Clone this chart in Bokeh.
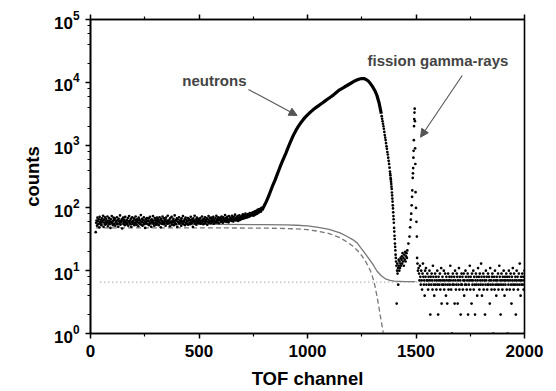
from bokeh.plotting import figure
from bokeh.models import (Range1d, LinearAxis, FixedTicker, LogTicker, Label,
                          Arrow, NormalHead, CustomJSTickFormatter)
from bokeh.embed import file_html
from bokeh.resources import INLINE

# ---------------- data ----------------
# flat background region, channels 24..790 step 2
band_start, band_step = 24, 2
band_counts = [
 41,58,63,52,70,61,55,66,49,72,60,57,64,53,68,59,62,75,50,65,58,71,54,61,
 67,56,60,73,51,63,58,69,55,62,48,66,59,74,57,61,53,70,64,56,68,52,63,60,
 58,71,55,64,50,67,61,57,76,54,62,59,66,47,63,70,56,60,65,53,72,58,61,55,
 64,57,69,52,61,74,58,63,55,67,50,60,71,56,62,59,68,53,65,57,73,61,54,66,
 59,63,51,70,58,65,56,62,77,54,60,67,52,64,58,71,55,61,48,66,60,57,69,63,
 55,62,68,53,60,72,57,64,50,66,59,61,74,56,63,52,69,58,65,54,61,70,57,62,
 66,53,60,71,58,64,49,67,56,62,73,59,55,68,61,57,64,52,70,60,63,56,75,58,
 62,57,65,51,69,60,58,72,54,63,59,67,53,61,76,57,64,55,62,68,50,66,60,58,
 71,56,63,59,65,52,68,61,57,74,55,62,60,66,53,70,58,64,56,61,69,54,63,67,
 58,64,55,72,60,57,66,62,50,68,59,63,75,56,61,65,54,70,58,62,67,60,57,64,
 61,69,56,63,58,73,60,65,55,67,62,59,71,57,64,61,68,54,66,60,74,58,63,69,
 62,57,70,64,59,67,61,72,56,65,63,60,69,58,75,62,66,59,71,64,57,68,63,70,
 65,60,73,62,68,58,71,64,66,61,77,63,69,60,67,72,62,65,59,74,66,63,70,64,
 68,62,75,65,70,61,72,67,64,78,66,63,71,69,65,74,62,70,67,76,64,69,72,66,
 70,74,67,79,71,68,76,72,69,81,73,70,77,74,71,80,75,72,78,83,74,79,76,82,
 78,84,80,75,86,81,77,88,83,79,90,85,81,93,87,84,95,89,86,97,91,88,100,95,
]

# neutron peak (dense, smooth part), channels 790..1340 step 10
peak_start, peak_step = 790, 10
peak_counts = [
 92,107,126,151,186,229,275,339,417,513,617,
 741,902,1096,1318,1549,1799,2042,2291,2541,2786,
 3020,3273,3508,3758,3981,4217,4467,4732,5012,5309,
 5623,5957,6310,6761,7244,7674,8035,8414,8810,9226,
 9661,10116,10593,10965,11298,11482,11482,11092,10471,9550,
 8511,7413,6166,4677,3162,
]

# falling edge of the neutron peak
fall_ch = list(range(1342, 1380, 2)) + list(range(1380, 1407))
fall_counts = [
 2884,2630,2399,2188,1995,1820,1622,1445,1318,1202,1072,955,871,776,708,631,562,501,437,
 380,352,331,300,282,262,240,218,200,176,158,141,126,110,98,85,74,66,58,48,42,36,32,27,24,21,18,
]

# minimum between the peaks
min_ch = [1407,1408,1410,1411,1413,1414,1415,1417,1418,1420,1421,1423,1424,1426,1428,1429,
          1431,1433,1435,1436,1438,1440,1442,1444,1446,1448,1450,1452,1454,1456,1458]
min_counts = [16,14,12,3,10,13,9,11,6,15,12,10,14,11,13,16,12,15,17,13,19,14,16,12,18,15,
              20,14,17,19,16]

# fission gamma-ray peak
gamma_ch = [1460,1465,1470,1473,1476,1478,1480,1482,1483,1485,1486,1487,1488,1489,1490,
            1491,1492,1493,1494,1495,1496,1497,1498,1500,1502,1504,1505,1507,1509]
gamma_counts = [21,27,35,49,65,81,110,150,190,300,355,430,630,810,1200,
                2000,2600,3300,3800,2400,890,500,178,100,60,35,16,13,10]

# flat tail, channels 1512..2000 step 2
tail_start, tail_step = 1512, 2
tail_counts = [
 11,9,7,12,8,6,10,7,5,9,13,8,6,7,4,10,8,11,6,7,
 9,7,5,8,6,10,7,2,8,6,9,7,5,12,8,6,4,7,9,6,
 8,5,7,10,6,2,8,7,6,9,5,7,11,3,6,8,7,6,10,5,
 7,9,6,4,8,7,3,6,9,5,7,8,6,12,7,5,8,1,6,9,
 7,6,8,3,10,7,5,6,9,8,3,7,6,11,5,8,7,2,6,9,
 6,8,5,7,9,4,7,6,10,8,6,5,7,9,2,8,6,7,12,5,
 8,7,3,9,6,7,10,5,8,6,2,7,9,6,8,4,7,11,6,8,
 5,9,7,6,13,8,4,7,6,9,5,8,7,2,6,10,7,8,5,6,
 9,6,8,7,3,11,6,7,5,8,9,6,1,7,8,5,10,6,7,4,
 8,6,7,9,5,6,12,8,7,2,6,9,7,5,8,6,10,7,4,8,
 6,7,9,5,8,1,7,6,10,8,5,7,9,6,3,8,7,11,6,5,
 9,7,6,8,2,7,10,6,8,5,7,9,6,13,7,4,8,6,7,9,
 6,8,5,7,10,
]

# fitted curves
fit_total_ch = [25,300,600,800,900,950,1000,1050,1100,1150,1183,1210,1230,1244,1260,1280,
                1300,1320,1340,1360,1380,1400,1450,1497]
fit_total = [54.5,54.5,54.5,54.2,53.6,52.9,51.6,49,45.5,40,35,31,27.5,23.5,20,16,
             12.8,9.9,8.3,7.4,7.0,6.8,6.7,6.7]
fit_neutron_ch = [25,300,600,800,900,950,1000,1050,1100,1150,1183,1210,1230,1244,1260,1270,
                  1280,1290,1300,1310,1321,1330,1340,1350]
fit_neutron = [48,48,48,47.6,47,46.3,45,42.5,39,33.5,28.5,24.5,21,18.6,15.5,13.6,
               11.7,10,7.9,5.9,3.8,2.5,1.55,1.0]
bg_ch = [45, 2000]
bg_level = [6.6, 6.6]

x_ticks = [0, 500, 1000, 1500, 2000]
x_minor = [250, 750, 1250, 1750]

# ---------------- assemble ----------------
xs = [band_start + i * band_step for i in range(len(band_counts))]
ys = list(band_counts)
xs += fall_ch + min_ch + gamma_ch
ys += fall_counts + min_counts + gamma_counts
xs += [tail_start + i * tail_step for i in range(len(tail_counts))]
ys += tail_counts
peak_x = [peak_start + i * peak_step for i in range(len(peak_counts))]

FONT = "Liberation Sans"

p = figure(width=556, height=391, x_range=Range1d(0, 2000), y_range=Range1d(1, 1e5),
           y_axis_type="log", output_backend="svg", toolbar_location=None,
           min_border_left=90, min_border_right=32, min_border_top=19, min_border_bottom=58)
p.background_fill_color = "white"
p.border_fill_color = "white"
p.outline_line_color = "black"
p.outline_line_width = 1.6
p.xgrid.visible = False
p.ygrid.visible = False

# curves
p.line(fit_total_ch, fit_total, line_color="#777777", line_width=1.3)
p.line(fit_neutron_ch, fit_neutron, line_color="#777777", line_width=1.3, line_dash="5 3")
p.line(bg_ch, bg_level, line_color="#999999", line_width=1.3, line_dash="1 3")

# data
p.line(peak_x, peak_counts, line_color="black", line_width=3.2)
p.scatter(xs, ys, size=2.7, fill_color="black", line_color=None)

# axes
xa = p.xaxis[0]
xa.ticker = FixedTicker(ticks=x_ticks, minor_ticks=x_minor)
xa.axis_label = "TOF channel"
ya = p.yaxis[0]
ya.ticker = LogTicker(desired_num_ticks=6)
ya.axis_label = "counts"
for ax in (xa, ya):
    ax.axis_line_width = 1.6
    ax.major_tick_line_width = 1.5
    ax.minor_tick_line_width = 1.2
    ax.major_tick_in = 0
    ax.major_tick_out = 5
    ax.minor_tick_in = 0
    ax.minor_tick_out = 3
    ax.major_label_text_font = FONT
    ax.major_label_text_font_style = "bold"
    ax.major_label_text_font_size = "17px"
    ax.major_label_text_color = "black"
    ax.axis_label_text_font = FONT
    ax.axis_label_text_font_style = "bold"
    ax.axis_label_text_font_size = "18.5px"
    ax.axis_label_text_color = "black"
xa.major_label_standoff = 6
xa.axis_label_standoff = 8
ya.major_label_standoff = 6
ya.axis_label_standoff = 8

top = LinearAxis(ticker=FixedTicker(ticks=x_ticks, minor_ticks=x_minor),
                 formatter=CustomJSTickFormatter(code="return '';"),
                 major_label_standoff=0,
                 axis_line_width=1.6, major_tick_line_width=1.5, minor_tick_line_width=1.2,
                 major_tick_in=0, major_tick_out=5, minor_tick_in=0, minor_tick_out=3)
p.add_layout(top, "above")

# annotations
p.add_layout(Label(x=571, y=10690, text="neutrons", text_font=FONT, text_font_style="bold",
                   text_font_size="15px", text_align="center", text_baseline="middle"))
p.add_layout(Label(x=1601, y=22240, text="fission gamma-rays", text_font=FONT,
                   text_font_style="bold", text_font_size="15px", text_align="center",
                   text_baseline="middle"))
p.add_layout(Arrow(x_start=728, y_start=7674, x_end=952, y_end=2965, line_color="#555555",
                   line_width=1.1, end=NormalHead(size=8, fill_color="#555555",
                                                  line_color="#555555")))
p.add_layout(Arrow(x_start=1713, y_start=12860, x_end=1521, y_end=1336, line_color="#555555",
                   line_width=1.1, end=NormalHead(size=8, fill_color="#555555",
                                                  line_color="#555555")))

open("out.html", "w").write(file_html(p, INLINE))
